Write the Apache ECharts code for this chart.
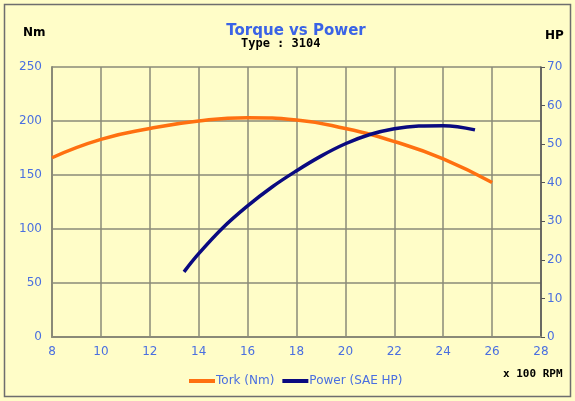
<!DOCTYPE html>
<html>
<head>
<meta charset="utf-8">
<script src="https://cdn.jsdelivr.net/npm/echarts@6/dist/echarts.min.js"></script>
<style>
  html, body { margin: 0; padding: 0; background: #fff; }
  #main { width: 575px; height: 401px; }
</style>
</head>
<body>
<div id="main"></div>
<script>
// rpm (x 100) and readings
var rpm = [8, 10, 12, 14, 16, 18, 20, 22, 24, 26]
var torque = [166, 183, 193, 200, 203, 201, 193, 181, 165, 143]
var powerRpm = [13.4, 14, 15, 16, 17, 18, 19, 20, 21, 22, 23, 24, 25.3]
var power = [16.9, 21.6, 28.4, 34.0, 38.9, 43.1, 46.9, 50.1, 52.5, 54.0, 54.7, 54.8, 53.7]

var labelBlue = '#4a6fe0'
var gridColor = '#8a8a78'

var chartDom = document.getElementById('main')
var myChart = echarts.init(chartDom)
var option = {
  backgroundColor: '#fffdc8',
  animation: false,
  textStyle: { fontFamily: 'DejaVu Sans' },
  graphic: [
    {
      type: 'rect',
      shape: { x: 4.5, y: 4.5, width: 566, height: 392 },
      style: { fill: 'none', stroke: '#6e6e6e', lineWidth: 1.5 }
    },
    {
      type: 'text', left: 23, top: 27,
      style: { text: 'Nm', font: 'bold 12px "DejaVu Sans"', fill: '#000' }
    },
    {
      type: 'text', left: 545, top: 30,
      style: { text: 'HP', font: 'bold 12px "DejaVu Sans"', fill: '#000' }
    },
    {
      type: 'text', left: 241, top: 38,
      style: { text: 'Type : 3104', font: 'bold 12px "DejaVu Sans Mono"', fill: '#000' }
    },
    {
      type: 'text', left: 503, top: 369,
      style: { text: 'x 100 RPM', font: 'bold 11px "DejaVu Sans Mono"', fill: '#000' }
    }
  ],
  title: {
    text: 'Torque vs Power',
    left: 291,
    textAlign: 'center',
    top: 19,
    textStyle: { color: '#3a63e6', fontSize: 15, fontWeight: 'bold', fontFamily: 'DejaVu Sans' }
  },
  legend: {
    bottom: 9,
    left: 184,
    itemWidth: 26,
    itemHeight: 4,
    itemGap: 8,
    textStyle: { color: labelBlue, fontSize: 12, padding: [0, 0, 0, -4] },
    data: [
      { name: 'Tork (Nm)', icon: 'rect' },
      { name: 'Power (SAE HP)', icon: 'rect' }
    ]
  },
  grid: { left: 52, right: 34, top: 67, bottom: 64 },
  xAxis: {
    type: 'value',
    min: 8,
    max: 28,
    interval: 2,
    axisLine: { show: true, lineStyle: { color: gridColor, width: 2 } },
    axisTick: { show: false },
    axisLabel: { color: labelBlue, fontSize: 12, margin: 9 },
    splitLine: { show: true, lineStyle: { color: gridColor, width: 1.5 } }
  },
  yAxis: [
    {
      type: 'value',
      min: 0,
      max: 250,
      interval: 50,
      position: 'left',
      axisLine: { show: true, lineStyle: { color: gridColor, width: 2 } },
      axisTick: { show: false },
      axisLabel: { color: labelBlue, fontSize: 12, margin: 10 },
      splitLine: { show: true, lineStyle: { color: gridColor, width: 1.5 } }
    },
    {
      type: 'value',
      min: 0,
      max: 70,
      interval: 10,
      position: 'right',
      axisLine: { show: true, lineStyle: { color: '#555', width: 1.5 } },
      axisTick: { show: true, length: 4, lineStyle: { color: '#555' } },
      axisLabel: { color: labelBlue, fontSize: 12, margin: 6 },
      splitLine: { show: false }
    }
  ],
  series: [
    {
      name: 'Tork (Nm)',
      type: 'line',
      smooth: true,
      showSymbol: false,
      yAxisIndex: 0,
      color: '#ff7010',
      lineStyle: { width: 3.5 },
      data: rpm.map(function (r, i) { return [r, torque[i]] })
    },
    {
      name: 'Power (SAE HP)',
      type: 'line',
      smooth: 0.4,
      showSymbol: false,
      yAxisIndex: 1,
      color: '#0a0a80',
      lineStyle: { width: 3.5 },
      data: powerRpm.map(function (r, i) { return [r, power[i]] })
    }
  ]
}
option && myChart.setOption(option)
</script>
</body>
</html>
